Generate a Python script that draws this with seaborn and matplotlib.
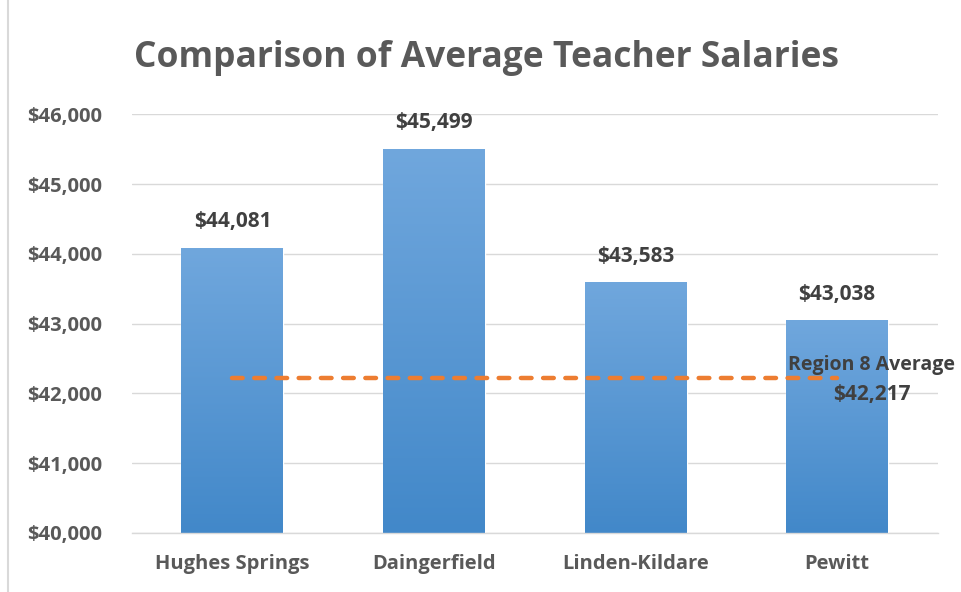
import numpy as np
import pandas as pd
import matplotlib
matplotlib.use("Agg")
import matplotlib.pyplot as plt
import seaborn as sns
from matplotlib.patches import Rectangle

# data
districts = ["Hughes Springs", "Daingerfield", "Linden-Kildare", "Pewitt"]
salaries = [44081, 45499, 43583, 43038]
region_avg = 42217
region_label = "Region 8 Average"

df = pd.DataFrame({"district": districts, "salary": salaries})

sns.set_style("white")
plt.rcParams["font.family"] = ["Open Sans", "DejaVu Sans"]

fig = plt.figure(figsize=(9.61, 5.92), dpi=100)
ax = fig.add_axes([0.137, 0.0997, 0.839, 0.7073])

sns.barplot(data=df, x="district", y="salary", color="#5b9bd5", width=0.506,
            ax=ax, saturation=1, zorder=2)

ymin, ymax = 40000, 46000

# gradient fill for bars (drawn only inside visible range)
top = np.array([112, 167, 221]) / 255
bot = np.array([66, 136, 201]) / 255
grad = np.linspace(0, 1, 256)[:, None, None]
img = top * (1 - grad) + bot * grad
for p in ax.patches:
    x0 = p.get_x()
    w, h = p.get_width(), p.get_height()
    ax.imshow(img, extent=[x0, x0 + w, ymin, h], aspect="auto",
              origin="upper", zorder=2.1)

ax.set_ylim(ymin, ymax)
ax.set_xlim(-0.5, 3.5)

# data labels
for i, v in enumerate(salaries):
    ax.text(i, v + 230, f"${v:,}", ha="center", va="bottom", fontsize=15,
            fontweight="bold", color="#404040")

# region average dashed line
ax.plot([0, len(districts) - 1], [region_avg, region_avg], color="#ed7d31",
        lw=3.2, ls=(0, (2.4, 2.6)), dash_capstyle="round", zorder=4)
ax.text(3.17, region_avg + 190, region_label, ha="center", va="center",
        fontsize=14, fontweight="bold", color="#404040", zorder=5)
ax.text(3.17, region_avg - 230, f"${region_avg:,}", ha="center", va="center",
        fontsize=15, fontweight="bold", color="#404040", zorder=5)

# axes styling
ax.yaxis.set_major_locator(matplotlib.ticker.MultipleLocator(1000))
ax.yaxis.set_major_formatter(matplotlib.ticker.FuncFormatter(lambda v, p: f"${v:,.0f}"))
ax.grid(axis="y", color="#d9d9d9", lw=1, zorder=0)
ax.set_axisbelow(True)
for s in ["top", "right", "left"]:
    ax.spines[s].set_visible(False)
ax.spines["bottom"].set_color("#d9d9d9")
ax.spines["bottom"].set_linewidth(1)
ax.tick_params(axis="both", length=0, labelsize=14.5, labelcolor="#595959")
ax.tick_params(axis="y", pad=21)
ax.tick_params(axis="x", pad=15)
for lab in ax.get_xticklabels() + ax.get_yticklabels():
    lab.set_fontweight("bold")
ax.set_xlabel("")
ax.set_ylabel("")

fig.text(0.506, 0.902, "Comparison of Average Teacher Salaries", ha="center",
         va="center", fontsize=25.5, fontweight="bold", color="#595959")

# chart border
fig.patches.append(Rectangle((8 / 961, -0.01), 1.0, 1.02, transform=fig.transFigure,
                             fill=False, edgecolor="#d9d9d9", lw=1.5))

fig.savefig("out.png", dpi=100)
